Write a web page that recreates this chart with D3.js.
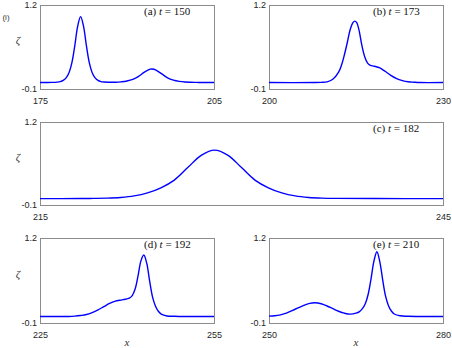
<!DOCTYPE html>
<html>
<head>
<meta charset="utf-8">
<script src="https://cdn.jsdelivr.net/npm/d3@7"></script>
<style>
  html, body { margin: 0; padding: 0; background: #fff; }
  svg { display: block; }
  .tick text { font-family: "Liberation Sans", Arial, sans-serif; font-size: 9px; fill: #262626; }
  .note { font-family: "Liberation Serif", "Times New Roman", serif; font-size: 11px; fill: #111; }
</style>
</head>
<body>
<svg id="chart" width="452" height="348"></svg>
<script>
// values, one x / zeta list per snapshot
var xA = [175, 176, 177, 178, 178.5, 179, 179.5, 180, 180.5, 181, 181.5, 182, 182.5, 183, 183.5, 184, 184.5, 185, 185.5, 186, 187, 188, 189, 190, 191, 192, 193, 194, 194.3, 195, 196, 197, 198, 199, 200, 201, 202, 203, 205];
var zetaA = [0, 0.001, 0.002, 0.007, 0.015, 0.033, 0.072, 0.152, 0.307, 0.57, 0.873, 1.02, 0.873, 0.57, 0.307, 0.152, 0.072, 0.033, 0.015, 0.008, 0.005, 0.005, 0.011, 0.023, 0.048, 0.094, 0.16, 0.207, 0.21, 0.193, 0.133, 0.072, 0.037, 0.018, 0.008, 0.004, 0.002, 0, 0];

var xB = [200, 208, 209, 210, 211, 212, 212.5, 213, 213.5, 214, 214.5, 214.8, 215.1, 215.5, 216, 216.5, 217, 217.5, 218, 218.5, 219, 219.5, 220, 221, 222, 223, 224, 225, 226, 230];
var zetaB = [0, 0, 0.003, 0.01, 0.05, 0.16, 0.27, 0.43, 0.62, 0.82, 0.93, 0.95, 0.93, 0.82, 0.58, 0.4, 0.3, 0.265, 0.255, 0.245, 0.23, 0.205, 0.175, 0.11, 0.06, 0.03, 0.012, 0.005, 0, 0];

var xC = [215, 218, 219, 220, 221, 222, 223, 224, 225, 226, 227, 228, 229, 230, 231, 232, 233, 234, 235, 236, 237, 240, 245];
var zetaC = [0, 0.001, 0.003, 0.007, 0.018, 0.042, 0.09, 0.17, 0.29, 0.486, 0.678, 0.76, 0.678, 0.486, 0.29, 0.17, 0.09, 0.042, 0.018, 0.007, 0.003, 0.001, 0];

var xD = [225, 230, 231, 232, 233, 234, 235, 236, 237, 238, 238.5, 239, 239.5, 240, 240.4, 240.9, 241.4, 241.9, 242.4, 242.9, 243.4, 243.9, 244.4, 244.9, 245.4, 245.9, 246.9, 248, 249, 255];
var zetaD = [0, 0, 0.005, 0.015, 0.03, 0.06, 0.1, 0.15, 0.2, 0.235, 0.245, 0.25, 0.26, 0.27, 0.28, 0.32, 0.42, 0.62, 0.85, 0.94, 0.815, 0.544, 0.3, 0.16, 0.08, 0.037, 0.008, 0.003, 0, 0];

var xE = [250, 251, 252, 253, 254, 255, 256, 257, 257.9, 259, 260, 261, 262, 263, 264, 265, 265.6, 266.1, 266.6, 267.1, 267.6, 268.1, 268.6, 269.1, 269.6, 270.1, 270.6, 271.1, 271.6, 272.6, 274, 276, 280];
var zetaE = [0.005, 0.01, 0.025, 0.05, 0.09, 0.13, 0.17, 0.2, 0.21, 0.195, 0.16, 0.12, 0.08, 0.05, 0.035, 0.05, 0.075, 0.12, 0.195, 0.34, 0.58, 0.85, 0.99, 0.84, 0.56, 0.31, 0.165, 0.083, 0.038, 0.01, 0.003, 0, 0];

var labels = ["(a)", "(b)", "(c)", "(d)", "(e)"];
var times = [150, 173, 182, 192, 210];
var xDomains = [[175, 205], [200, 230], [215, 245], [225, 255], [250, 280]];
var yTicks = [-0.1, 1.2];
var yTickLabels = ["-0.1", "1.2"];

// frame boxes in pixels
var boxes = [
  {left: 40, top: 5, right: 214, bottom: 89},
  {left: 269, top: 5, right: 443, bottom: 89},
  {left: 40, top: 122, right: 443, bottom: 205},
  {left: 40, top: 238, right: 214, bottom: 323},
  {left: 269, top: 238, right: 443, bottom: 323}
];
var showZeta = [true, false, true, true, false];
var showX = [false, false, false, true, true];

var series = [[xA, zetaA], [xB, zetaB], [xC, zetaC], [xD, zetaD], [xE, zetaE]];

var svg = d3.select("#chart");

svg.append("text")
  .attr("x", 6).attr("y", 20)
  .attr("text-anchor", "middle")
  .style("font-family", "Liberation Sans, Arial, sans-serif")
  .style("font-size", "8px")
  .style("fill", "#333")
  .text("(i)");

series.forEach(function(s, i) {
  var b = boxes[i];
  var x = d3.scaleLinear().domain(xDomains[i]).range([b.left, b.right]);
  var y = d3.scaleLinear().domain([yTicks[0], yTicks[1]]).range([b.bottom, b.top]);

  var g = svg.append("g");

  g.append("rect")
    .attr("x", b.left + 0.5).attr("y", b.top + 0.5)
    .attr("width", b.right - b.left).attr("height", b.bottom - b.top)
    .attr("fill", "none")
    .attr("stroke", "#8c8c8c")
    .attr("stroke-width", 1);

  g.append("g")
    .attr("transform", "translate(0," + b.bottom + ")")
    .call(d3.axisBottom(x).tickValues(xDomains[i]).tickSize(0).tickPadding(9).tickFormat(d3.format("d")))
    .call(function(a) { a.select(".domain").remove(); });

  g.append("g")
    .attr("transform", "translate(" + b.left + ",0)")
    .call(d3.axisLeft(y).tickValues(yTicks).tickSize(0).tickPadding(3)
      .tickFormat(function(d, k) { return yTickLabels[k]; }))
    .call(function(a) { a.select(".domain").remove(); });

  var pts = s[0].map(function(v, k) { return [v, s[1][k]]; });
  var line = d3.line()
    .x(function(d) { return x(d[0]); })
    .y(function(d) { return y(d[1]); })
    .curve(d3.curveCatmullRom.alpha(0.5));

  g.append("path")
    .datum(pts)
    .attr("d", line)
    .attr("fill", "none")
    .attr("stroke", "#0000ff")
    .attr("stroke-width", 1.4);

  var note = g.append("text")
    .attr("class", "note")
    .attr("x", b.right - 70)
    .attr("y", b.top + 10);
  note.append("tspan").text(labels[i] + " ");
  note.append("tspan").style("font-style", "italic").text("t");
  note.append("tspan").text(" = " + times[i]);

  if (showZeta[i]) {
    g.append("text")
      .attr("x", 18).attr("y", (b.top + b.bottom) / 2 - 3)
      .attr("text-anchor", "middle")
      .style("font-family", "Liberation Serif, serif")
      .style("font-style", "italic")
      .style("font-size", "11px")
      .style("fill", "#333")
      .text("ζ");
  }
  if (showX[i]) {
    g.append("text")
      .attr("x", (b.left + b.right) / 2).attr("y", 346)
      .attr("text-anchor", "middle")
      .style("font-family", "Liberation Serif, serif")
      .style("font-style", "italic")
      .style("font-size", "11px")
      .style("fill", "#333")
      .text("x");
  }
});
</script>
</body>
</html>
